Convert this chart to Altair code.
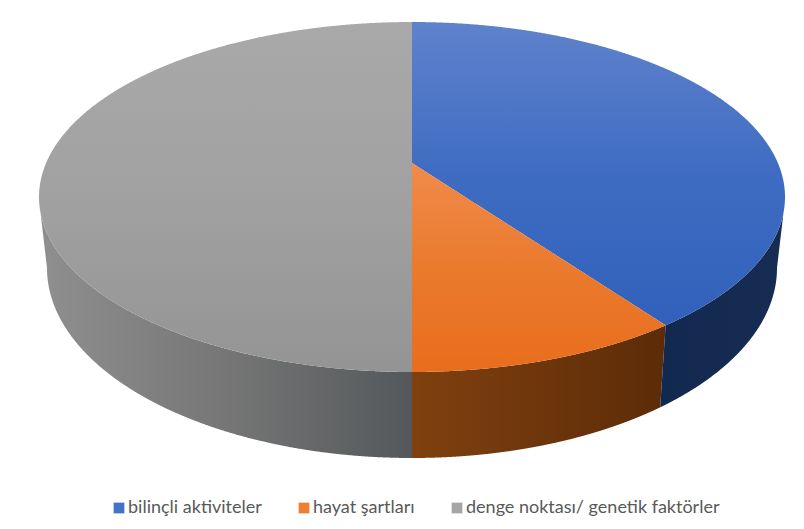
import numpy as np
import pandas as pd
import altair as alt

categories = ["bilinçli aktiviteler", "hayat şartları", "denge noktası/ genetik faktörler"]
shares = [38.1, 11.9, 50.0]
legend_colors = ["#4472C4", "#ED7D31", "#A5A5A5"]

# pie geometry in the picture's own coordinate space
CX, TOP_CY, TOP_RX, TOP_RY = 412.0, 197.0, 373.0, 175.0
BOT_CY, BOT_RX, BOT_RY = 268.0, 365.0, 190.0
TIP_Y, RIM_Y = 163.0, 213.0

total = sum(shares)
a1 = shares[0] / total * 360.0
a2 = (shares[0] + shares[1]) / total * 360.0
rim_a = np.degrees(np.arccos(-(RIM_Y - TOP_CY) / TOP_RY))


def arc(start, stop, cy, rx, ry):
    t = np.radians(np.linspace(start, stop, 500))
    return list(zip(CX + rx * np.sin(t), cy - ry * np.cos(t)))


def top(start, stop):
    return arc(start, stop, TOP_CY, TOP_RX, TOP_RY)


def bottom(start, stop):
    return arc(start, stop, BOT_CY, BOT_RX, BOT_RY)


def band(upper, lower):
    up = sorted(upper)
    lo = sorted(lower)
    ux, uy = zip(*up)
    lx, ly = zip(*lo)
    xs = np.unique(np.concatenate([ux, lx]))
    return pd.DataFrame({
        "x": xs,
        "y": np.interp(xs, ux, uy),
        "y2": np.interp(xs, lx, ly),
    })


def grad(colors, horizontal=False):
    n = len(colors) - 1
    return alt.Gradient(
        gradient="linear",
        stops=[alt.GradientStop(color=c, offset=i / n) for i, c in enumerate(colors)],
        x1=0, y1=0,
        x2=1 if horizontal else 0,
        y2=0 if horizontal else 1,
    )


W, H = 788, 513
x_scale = alt.Scale(domain=[8, 8 + W], nice=False, zero=False)
y_scale = alt.Scale(domain=[8, 8 + H], nice=False, zero=False, reverse=True)


def region(df, fill):
    return alt.Chart(df).mark_area(color=fill, interpolate="linear", line=False).encode(
        x=alt.X("x:Q", scale=x_scale, axis=None),
        y=alt.Y("y:Q", scale=y_scale, axis=None),
        y2="y2:Q",
    )


edge_top = top(a1, a1)[0]
edge_bot = bottom(a1, a1)[0]
rim_r = (CX + TOP_RX * np.sin(np.radians(rim_a)), RIM_Y)
rim_l = (2 * CX - rim_r[0], RIM_Y)
tip = (CX, TIP_Y)

wall_blue = band([edge_bot, edge_top] + top(a1, rim_a), bottom(a1, 90) + [rim_r])
wall_orange = band(top(a1, a2), bottom(a1, a2) + [edge_top])
wall_gray = band(top(180, 360 - rim_a), bottom(180, 270) + [rim_l])

face_blue = band(top(0, 90), [tip, edge_top] + top(a1, 90))
face_orange = band([tip, edge_top], top(a1, a2))
face_gray = band(top(270, 360), top(180, 270))

layers = [
    alt.Chart(pd.DataFrame({"category": categories, "share": shares,
                            "x": [CX] * 3, "y": [TOP_CY] * 3}))
    .mark_square(size=1, opacity=1)
    .encode(
        x=alt.X("x:Q", scale=x_scale, axis=None),
        y=alt.Y("y:Q", scale=y_scale, axis=None),
        color=alt.Color(
            "category:N",
            scale=alt.Scale(domain=categories, range=legend_colors),
            legend=alt.Legend(
                title=None, orient="none", direction="horizontal",
                legendX=102, legendY=491,
                symbolType="square", symbolSize=115, symbolStrokeWidth=0,
                labelFont="Lato", labelFontSize=18, labelColor="#595959",
                labelLimit=400, columnPadding=33, labelOffset=0,
            ),
        ),
    ),
    region(wall_gray, grad(["#8f8f8f", "#767676", "#54585a"], True)),
    region(wall_orange, grad(["#80400f", "#5c2c08"], True)),
    region(wall_blue, grad(["#12294f", "#172c52"], True)),
    region(face_gray, grad(["#a9a9a9", "#a1a1a1", "#949494"])),
    region(face_blue, grad(["#5f82cc", "#3f6cc2", "#3161bb"])),
    region(face_orange, grad(["#f08b4b", "#ea7a2e", "#e86e1c"])),
]

chart = alt.layer(*layers).properties(
    width=W, height=H, padding=0, background="white",
    autosize=alt.AutoSizeParams(type="none"),
).configure_view(stroke=None)

chart.save("out.html", embed_options={"renderer": "svg", "actions": False})
